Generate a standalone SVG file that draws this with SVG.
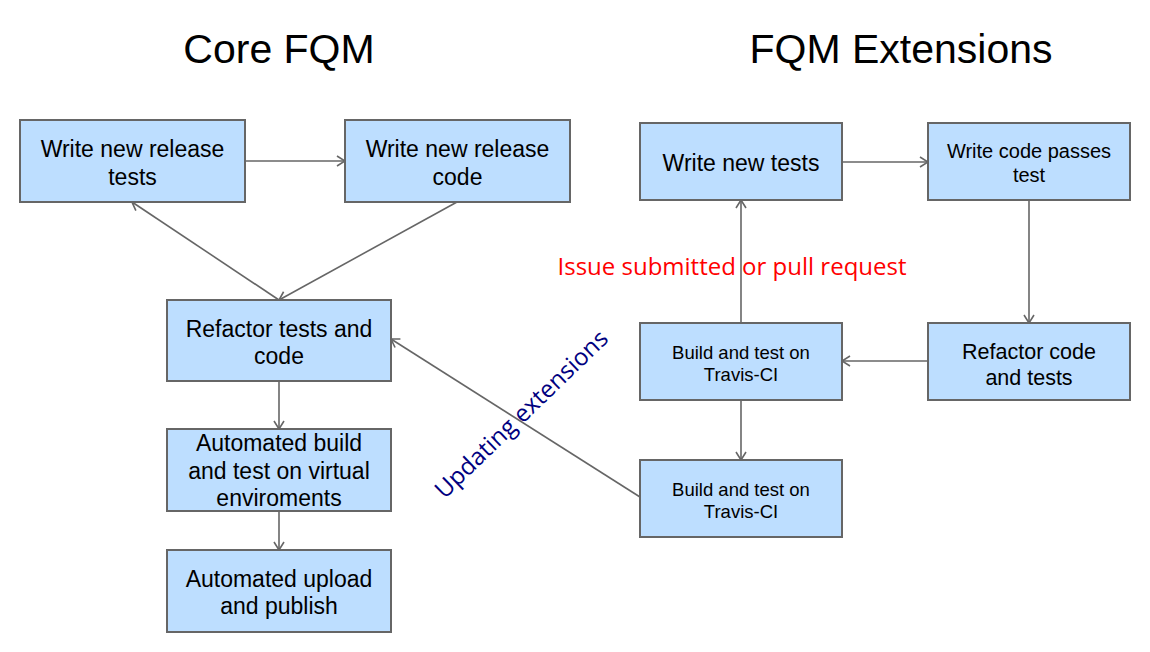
<svg xmlns="http://www.w3.org/2000/svg" width="1150" height="652" viewBox="0 0 1150 652">
<defs>
<marker id="arr" viewBox="0 0 10 12" refX="9" refY="6" markerWidth="10" markerHeight="12" markerUnits="userSpaceOnUse" orient="auto">
<path d="M1,1 L9,6 L1,11" fill="none" stroke="#666666" stroke-width="1.6"/>
</marker>
<style>
.box{fill:#BDDEFF;stroke:#666666;stroke-width:2}
.t{font-family:"Liberation Sans",Arial,sans-serif;fill:#000;text-anchor:middle}
.title{font-family:"Liberation Sans",Arial,sans-serif;font-size:41px;fill:#000;text-anchor:middle}
.c{fill:none;stroke:#666666;stroke-width:1.6;marker-end:url(#arr)}
.lbl{font-family:"Open Sans",sans-serif;font-size:24px;text-anchor:middle}
</style>
</defs>
<rect width="1150" height="652" fill="#ffffff"/>
<text class="title" x="279" y="63">Core FQM</text>
<text class="title" x="901" y="63">FQM Extensions</text>

<g id="connectors">
<line class="c" x1="245" y1="161" x2="345" y2="161"/>
<line class="c" x1="279" y1="300" x2="132" y2="202"/>
<line class="c" x1="457" y1="202" x2="279" y2="300"/>
<line class="c" x1="279" y1="381" x2="279" y2="429"/>
<line class="c" x1="279" y1="511" x2="279" y2="550"/>
<line class="c" x1="640" y1="497" x2="391" y2="339"/>
<line class="c" x1="842" y1="162" x2="928" y2="162"/>
<line class="c" x1="1029" y1="201" x2="1029" y2="323"/>
<line class="c" x1="928" y1="361" x2="842" y2="361"/>
<line class="c" x1="741" y1="323" x2="741" y2="200"/>
<line class="c" x1="741" y1="400" x2="741" y2="460"/>
</g>

<g id="n1"><rect class="box" x="20" y="120" width="225" height="82"/>
<text class="t" font-size="23" x="132.5" y="157">Write new release</text>
<text class="t" font-size="23" x="132.5" y="185">tests</text></g>

<g id="n2"><rect class="box" x="345" y="120" width="225" height="82"/>
<text class="t" font-size="23" x="457.5" y="157">Write new release</text>
<text class="t" font-size="23" x="457.5" y="185">code</text></g>

<g id="n3"><rect class="box" x="167" y="300" width="224" height="81"/>
<text class="t" font-size="23" x="279" y="337">Refactor tests and</text>
<text class="t" font-size="23" x="279" y="364">code</text></g>

<g id="n4"><rect class="box" x="167" y="429" width="224" height="82"/>
<text class="t" font-size="23" x="279" y="451">Automated build</text>
<text class="t" font-size="23" x="279" y="479">and test on virtual</text>
<text class="t" font-size="23" x="279" y="506">enviroments</text></g>

<g id="n5"><rect class="box" x="167" y="550" width="224" height="82"/>
<text class="t" font-size="23" x="279" y="587">Automated upload</text>
<text class="t" font-size="23" x="279" y="614">and publish</text></g>

<g id="n6"><rect class="box" x="640" y="123" width="202" height="77"/>
<text class="t" font-size="23" x="741" y="171">Write new tests</text></g>

<g id="n7"><rect class="box" x="928" y="123" width="202" height="77"/>
<text class="t" font-size="20" x="1029" y="158">Write code passes</text>
<text class="t" font-size="20" x="1029" y="182">test</text></g>

<g id="n8"><rect class="box" x="640" y="323" width="202" height="77"/>
<text class="t" font-size="18.5" x="741" y="359">Build and test on</text>
<text class="t" font-size="18.5" x="741" y="381">Travis-CI</text></g>

<g id="n9"><rect class="box" x="928" y="323" width="202" height="77"/>
<text class="t" font-size="21.5" x="1029" y="359">Refactor code</text>
<text class="t" font-size="21.5" x="1029" y="385">and tests</text></g>

<g id="n10"><rect class="box" x="640" y="460" width="202" height="77"/>
<text class="t" font-size="18.5" x="741" y="496">Build and test on</text>
<text class="t" font-size="18.5" x="741" y="518">Travis-CI</text></g>

<text class="lbl" fill="#FF0000" x="732" y="275">Issue submitted or pull request</text>
<text class="lbl" fill="#000080" transform="translate(527,420) rotate(-44)" x="0" y="0">Updating extensions</text>
</svg>
